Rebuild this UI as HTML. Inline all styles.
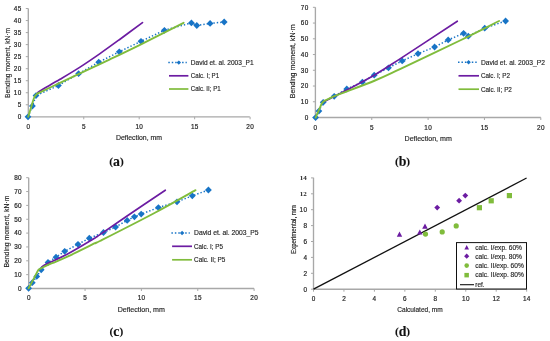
<!DOCTYPE html><html><head><meta charset="utf-8"><style>html,body{margin:0;padding:0;background:#fff;}svg{display:block;will-change:transform;}</style></head><body>
<svg width="550" height="341" viewBox="0 0 550 341">
<rect width="550" height="341" fill="#fff"/>
<line x1="28.3" y1="8.5" x2="28.3" y2="116.8" stroke="#a8a8a8" stroke-width="1.35"/>
<line x1="28.3" y1="116.8" x2="249.8" y2="116.8" stroke="#a8a8a8" stroke-width="1.35"/>
<line x1="25.8" y1="116.8" x2="28.3" y2="116.8" stroke="#a8a8a8" stroke-width="1"/>
<text x="21.650000000000002" y="119.1" font-size="6.4" text-anchor="end" font-family='"Liberation Sans", sans-serif' font-weight="normal" fill="#262626" stroke="#262626" stroke-width="0.2" letter-spacing="0.35">0</text>
<line x1="25.8" y1="104.77" x2="28.3" y2="104.77" stroke="#a8a8a8" stroke-width="1"/>
<text x="21.650000000000002" y="107.07" font-size="6.4" text-anchor="end" font-family='"Liberation Sans", sans-serif' font-weight="normal" fill="#262626" stroke="#262626" stroke-width="0.2" letter-spacing="0.35">5</text>
<line x1="25.8" y1="92.74" x2="28.3" y2="92.74" stroke="#a8a8a8" stroke-width="1"/>
<text x="21.650000000000002" y="95.03999999999999" font-size="6.4" text-anchor="end" font-family='"Liberation Sans", sans-serif' font-weight="normal" fill="#262626" stroke="#262626" stroke-width="0.2" letter-spacing="0.35">10</text>
<line x1="25.8" y1="80.71000000000001" x2="28.3" y2="80.71000000000001" stroke="#a8a8a8" stroke-width="1"/>
<text x="21.650000000000002" y="83.01" font-size="6.4" text-anchor="end" font-family='"Liberation Sans", sans-serif' font-weight="normal" fill="#262626" stroke="#262626" stroke-width="0.2" letter-spacing="0.35">15</text>
<line x1="25.8" y1="68.68" x2="28.3" y2="68.68" stroke="#a8a8a8" stroke-width="1"/>
<text x="21.650000000000002" y="70.98" font-size="6.4" text-anchor="end" font-family='"Liberation Sans", sans-serif' font-weight="normal" fill="#262626" stroke="#262626" stroke-width="0.2" letter-spacing="0.35">20</text>
<line x1="25.8" y1="56.65" x2="28.3" y2="56.65" stroke="#a8a8a8" stroke-width="1"/>
<text x="21.650000000000002" y="58.949999999999996" font-size="6.4" text-anchor="end" font-family='"Liberation Sans", sans-serif' font-weight="normal" fill="#262626" stroke="#262626" stroke-width="0.2" letter-spacing="0.35">25</text>
<line x1="25.8" y1="44.620000000000005" x2="28.3" y2="44.620000000000005" stroke="#a8a8a8" stroke-width="1"/>
<text x="21.650000000000002" y="46.92" font-size="6.4" text-anchor="end" font-family='"Liberation Sans", sans-serif' font-weight="normal" fill="#262626" stroke="#262626" stroke-width="0.2" letter-spacing="0.35">30</text>
<line x1="25.8" y1="32.59" x2="28.3" y2="32.59" stroke="#a8a8a8" stroke-width="1"/>
<text x="21.650000000000002" y="34.89" font-size="6.4" text-anchor="end" font-family='"Liberation Sans", sans-serif' font-weight="normal" fill="#262626" stroke="#262626" stroke-width="0.2" letter-spacing="0.35">35</text>
<line x1="25.8" y1="20.560000000000002" x2="28.3" y2="20.560000000000002" stroke="#a8a8a8" stroke-width="1"/>
<text x="21.650000000000002" y="22.860000000000003" font-size="6.4" text-anchor="end" font-family='"Liberation Sans", sans-serif' font-weight="normal" fill="#262626" stroke="#262626" stroke-width="0.2" letter-spacing="0.35">40</text>
<line x1="25.8" y1="8.530000000000001" x2="28.3" y2="8.530000000000001" stroke="#a8a8a8" stroke-width="1"/>
<text x="21.650000000000002" y="10.830000000000002" font-size="6.4" text-anchor="end" font-family='"Liberation Sans", sans-serif' font-weight="normal" fill="#262626" stroke="#262626" stroke-width="0.2" letter-spacing="0.35">45</text>
<line x1="28.3" y1="116.8" x2="28.3" y2="119.3" stroke="#a8a8a8" stroke-width="1"/>
<text x="28.470000000000002" y="128.8" font-size="6.4" text-anchor="middle" font-family='"Liberation Sans", sans-serif' font-weight="normal" fill="#262626" stroke="#262626" stroke-width="0.2" letter-spacing="0.35">0</text>
<line x1="83.75" y1="116.8" x2="83.75" y2="119.3" stroke="#a8a8a8" stroke-width="1"/>
<text x="83.92" y="128.8" font-size="6.4" text-anchor="middle" font-family='"Liberation Sans", sans-serif' font-weight="normal" fill="#262626" stroke="#262626" stroke-width="0.2" letter-spacing="0.35">5</text>
<line x1="139.20000000000002" y1="116.8" x2="139.20000000000002" y2="119.3" stroke="#a8a8a8" stroke-width="1"/>
<text x="139.37" y="128.8" font-size="6.4" text-anchor="middle" font-family='"Liberation Sans", sans-serif' font-weight="normal" fill="#262626" stroke="#262626" stroke-width="0.2" letter-spacing="0.35">10</text>
<line x1="194.65000000000003" y1="116.8" x2="194.65000000000003" y2="119.3" stroke="#a8a8a8" stroke-width="1"/>
<text x="194.82000000000002" y="128.8" font-size="6.4" text-anchor="middle" font-family='"Liberation Sans", sans-serif' font-weight="normal" fill="#262626" stroke="#262626" stroke-width="0.2" letter-spacing="0.35">15</text>
<line x1="250.10000000000002" y1="116.8" x2="250.10000000000002" y2="119.3" stroke="#a8a8a8" stroke-width="1"/>
<text x="250.27" y="128.8" font-size="6.4" text-anchor="middle" font-family='"Liberation Sans", sans-serif' font-weight="normal" fill="#262626" stroke="#262626" stroke-width="0.2" letter-spacing="0.35">20</text>
<text x="10.100000000000001" y="62.9" font-size="6.5" text-anchor="middle" font-family='"Liberation Sans", sans-serif' font-weight="normal" fill="#262626" stroke="#262626" stroke-width="0.15" textLength="70" lengthAdjust="spacingAndGlyphs" transform="rotate(-90 10.100000000000001 62.9)">Bending moment, kN·m</text>
<text x="139" y="140" font-size="6.5" text-anchor="middle" font-family='"Liberation Sans", sans-serif' font-weight="normal" fill="#262626" stroke="#262626" stroke-width="0.15" textLength="46" lengthAdjust="spacingAndGlyphs">Deflection, mm</text>
<text x="109.3" y="165.6" font-family='"Liberation Serif", serif' font-weight="bold" fill="#111" stroke="#111" stroke-width="0.1"><tspan font-size="11.3" dy="-1">(</tspan><tspan font-size="13.8" dx="0" dy="1">a</tspan><tspan font-size="11.3" dx="0" dy="-1">)</tspan></text>
<polyline points="28.0,116.8 32.4,106.0 36.0,95.6 58.4,85.5 78.6,73.7 98.7,62.2 119.3,51.8 141.0,41.3 164.4,30.3 191.4,22.9 196.8,25.5 210.1,23.4 224.2,22.0" fill="none" stroke="#1874c6" stroke-width="1.5" stroke-dasharray="1.4 2" stroke-linecap="butt"/>
<path d="M28.0 113.4L31.4 116.8L28.0 120.2L24.6 116.8Z" fill="#1874c6"/>
<path d="M32.4 102.6L35.8 106.0L32.4 109.4L29.0 106.0Z" fill="#1874c6"/>
<path d="M36.0 92.2L39.4 95.6L36.0 99.0L32.6 95.6Z" fill="#1874c6"/>
<path d="M58.4 82.1L61.8 85.5L58.4 88.9L55.0 85.5Z" fill="#1874c6"/>
<path d="M78.6 70.3L82.0 73.7L78.6 77.1L75.2 73.7Z" fill="#1874c6"/>
<path d="M98.7 58.8L102.1 62.2L98.7 65.6L95.3 62.2Z" fill="#1874c6"/>
<path d="M119.3 48.4L122.7 51.8L119.3 55.2L115.9 51.8Z" fill="#1874c6"/>
<path d="M141.0 37.9L144.4 41.3L141.0 44.7L137.6 41.3Z" fill="#1874c6"/>
<path d="M164.4 26.9L167.8 30.3L164.4 33.7L161.0 30.3Z" fill="#1874c6"/>
<path d="M191.4 19.5L194.8 22.9L191.4 26.3L188.0 22.9Z" fill="#1874c6"/>
<path d="M196.8 22.1L200.2 25.5L196.8 28.9L193.4 25.5Z" fill="#1874c6"/>
<path d="M210.1 20.0L213.5 23.4L210.1 26.8L206.7 23.4Z" fill="#1874c6"/>
<path d="M224.2 18.6L227.6 22.0L224.2 25.4L220.8 22.0Z" fill="#1874c6"/>
<path d="M37.20 93.20C37.67 92.83 36.20 93.32 40.00 91.00C43.80 88.68 53.33 83.28 60.00 79.30C66.67 75.32 73.33 71.38 80.00 67.10C86.67 62.82 93.33 58.25 100.00 53.60C106.67 48.95 112.92 44.37 120.00 39.20C127.08 34.03 138.75 25.37 142.50 22.60" fill="none" stroke="#6c1ca2" stroke-width="1.7" stroke-linejoin="round" stroke-linecap="round"/>
<path d="M28.20 116.80C28.75 115.00 30.53 109.13 31.50 106.00C32.47 102.87 33.17 99.95 34.00 98.00C34.83 96.05 35.50 95.25 36.50 94.30C37.50 93.35 36.08 94.22 40.00 92.30C43.92 90.38 53.33 85.97 60.00 82.80C66.67 79.63 71.67 77.22 80.00 73.30C88.33 69.38 100.00 64.05 110.00 59.30C120.00 54.55 127.73 50.88 140.00 44.80C152.27 38.72 176.33 26.47 183.60 22.80" fill="none" stroke="#80bc3c" stroke-width="1.9" stroke-linejoin="round" stroke-linecap="round"/>
<line x1="168.3" y1="62.6" x2="186.8" y2="62.6" stroke="#1874c6" stroke-width="1.5" stroke-dasharray="1.5 1.95"/>
<path d="M178.8 60.4L181.0 62.6L178.8 64.8L176.6 62.6Z" fill="#1874c6"/>
<line x1="169.0" y1="75.8" x2="188.4" y2="75.8" stroke="#6c1ca2" stroke-width="1.7"/>
<line x1="169.0" y1="89.0" x2="188.4" y2="89.0" stroke="#80bc3c" stroke-width="1.7"/>
<text x="190.8" y="64.9" font-size="6.5" text-anchor="start" font-family='"Liberation Sans", sans-serif' font-weight="normal" fill="#262626" stroke="#262626" stroke-width="0.15" textLength="62.8" lengthAdjust="spacingAndGlyphs">David et. al. 2003_P1</text>
<text x="190.8" y="78.1" font-size="6.5" text-anchor="start" font-family='"Liberation Sans", sans-serif' font-weight="normal" fill="#262626" stroke="#262626" stroke-width="0.15" textLength="28.3" lengthAdjust="spacingAndGlyphs">Calc. I; P1</text>
<text x="190.8" y="91.3" font-size="6.5" text-anchor="start" font-family='"Liberation Sans", sans-serif' font-weight="normal" fill="#262626" stroke="#262626" stroke-width="0.15" textLength="29.8" lengthAdjust="spacingAndGlyphs">Calc. II; P1</text>
<line x1="315.4" y1="7.3" x2="315.4" y2="117.5" stroke="#a8a8a8" stroke-width="1.35"/>
<line x1="315.4" y1="117.5" x2="540.8" y2="117.5" stroke="#a8a8a8" stroke-width="1.35"/>
<line x1="312.9" y1="117.5" x2="315.4" y2="117.5" stroke="#a8a8a8" stroke-width="1"/>
<text x="308.65000000000003" y="119.8" font-size="6.4" text-anchor="end" font-family='"Liberation Sans", sans-serif' font-weight="normal" fill="#262626" stroke="#262626" stroke-width="0.2" letter-spacing="0.35">0</text>
<line x1="312.9" y1="101.76" x2="315.4" y2="101.76" stroke="#a8a8a8" stroke-width="1"/>
<text x="308.65000000000003" y="104.06" font-size="6.4" text-anchor="end" font-family='"Liberation Sans", sans-serif' font-weight="normal" fill="#262626" stroke="#262626" stroke-width="0.2" letter-spacing="0.35">10</text>
<line x1="312.9" y1="86.02" x2="315.4" y2="86.02" stroke="#a8a8a8" stroke-width="1"/>
<text x="308.65000000000003" y="88.32" font-size="6.4" text-anchor="end" font-family='"Liberation Sans", sans-serif' font-weight="normal" fill="#262626" stroke="#262626" stroke-width="0.2" letter-spacing="0.35">20</text>
<line x1="312.9" y1="70.28" x2="315.4" y2="70.28" stroke="#a8a8a8" stroke-width="1"/>
<text x="308.65000000000003" y="72.58" font-size="6.4" text-anchor="end" font-family='"Liberation Sans", sans-serif' font-weight="normal" fill="#262626" stroke="#262626" stroke-width="0.2" letter-spacing="0.35">30</text>
<line x1="312.9" y1="54.54" x2="315.4" y2="54.54" stroke="#a8a8a8" stroke-width="1"/>
<text x="308.65000000000003" y="56.839999999999996" font-size="6.4" text-anchor="end" font-family='"Liberation Sans", sans-serif' font-weight="normal" fill="#262626" stroke="#262626" stroke-width="0.2" letter-spacing="0.35">40</text>
<line x1="312.9" y1="38.8" x2="315.4" y2="38.8" stroke="#a8a8a8" stroke-width="1"/>
<text x="308.65000000000003" y="41.099999999999994" font-size="6.4" text-anchor="end" font-family='"Liberation Sans", sans-serif' font-weight="normal" fill="#262626" stroke="#262626" stroke-width="0.2" letter-spacing="0.35">50</text>
<line x1="312.9" y1="23.060000000000002" x2="315.4" y2="23.060000000000002" stroke="#a8a8a8" stroke-width="1"/>
<text x="308.65000000000003" y="25.360000000000003" font-size="6.4" text-anchor="end" font-family='"Liberation Sans", sans-serif' font-weight="normal" fill="#262626" stroke="#262626" stroke-width="0.2" letter-spacing="0.35">60</text>
<line x1="312.9" y1="7.319999999999993" x2="315.4" y2="7.319999999999993" stroke="#a8a8a8" stroke-width="1"/>
<text x="308.65000000000003" y="9.619999999999994" font-size="6.4" text-anchor="end" font-family='"Liberation Sans", sans-serif' font-weight="normal" fill="#262626" stroke="#262626" stroke-width="0.2" letter-spacing="0.35">70</text>
<line x1="315.4" y1="117.5" x2="315.4" y2="120.0" stroke="#a8a8a8" stroke-width="1"/>
<text x="315.57" y="129.5" font-size="6.4" text-anchor="middle" font-family='"Liberation Sans", sans-serif' font-weight="normal" fill="#262626" stroke="#262626" stroke-width="0.2" letter-spacing="0.35">0</text>
<line x1="371.75" y1="117.5" x2="371.75" y2="120.0" stroke="#a8a8a8" stroke-width="1"/>
<text x="371.92" y="129.5" font-size="6.4" text-anchor="middle" font-family='"Liberation Sans", sans-serif' font-weight="normal" fill="#262626" stroke="#262626" stroke-width="0.2" letter-spacing="0.35">5</text>
<line x1="428.09999999999997" y1="117.5" x2="428.09999999999997" y2="120.0" stroke="#a8a8a8" stroke-width="1"/>
<text x="428.27" y="129.5" font-size="6.4" text-anchor="middle" font-family='"Liberation Sans", sans-serif' font-weight="normal" fill="#262626" stroke="#262626" stroke-width="0.2" letter-spacing="0.35">10</text>
<line x1="484.45" y1="117.5" x2="484.45" y2="120.0" stroke="#a8a8a8" stroke-width="1"/>
<text x="484.62" y="129.5" font-size="6.4" text-anchor="middle" font-family='"Liberation Sans", sans-serif' font-weight="normal" fill="#262626" stroke="#262626" stroke-width="0.2" letter-spacing="0.35">15</text>
<line x1="540.8" y1="117.5" x2="540.8" y2="120.0" stroke="#a8a8a8" stroke-width="1"/>
<text x="540.9699999999999" y="129.5" font-size="6.4" text-anchor="middle" font-family='"Liberation Sans", sans-serif' font-weight="normal" fill="#262626" stroke="#262626" stroke-width="0.2" letter-spacing="0.35">20</text>
<text x="295.4" y="61.3" font-size="6.5" text-anchor="middle" font-family='"Liberation Sans", sans-serif' font-weight="normal" fill="#262626" stroke="#262626" stroke-width="0.15" textLength="74" lengthAdjust="spacingAndGlyphs" transform="rotate(-90 295.4 61.3)">Bending moment, kN·m</text>
<text x="428.2" y="141.3" font-size="6.5" text-anchor="middle" font-family='"Liberation Sans", sans-serif' font-weight="normal" fill="#262626" stroke="#262626" stroke-width="0.15" textLength="47.3" lengthAdjust="spacingAndGlyphs">Deflection, mm</text>
<text x="394.9" y="165.6" font-family='"Liberation Serif", serif' font-weight="bold" fill="#111" stroke="#111" stroke-width="0.1"><tspan font-size="11.3" dy="-1">(</tspan><tspan font-size="13.8" dx="0" dy="1">b</tspan><tspan font-size="11.3" dx="0" dy="-1">)</tspan></text>
<polyline points="315.6,117.6 318.9,111.1 323.2,102.3 334.2,96.3 346.8,89.0 362.4,82.1 374.2,75.2 388.5,67.8 402.2,60.9 418.0,53.7 434.6,47.0 448.2,39.9 463.6,33.3 468.3,36.2 484.7,28.2 505.6,21.0" fill="none" stroke="#1874c6" stroke-width="1.5" stroke-dasharray="1.4 2" stroke-linecap="butt"/>
<path d="M315.6 114.2L319.0 117.6L315.6 121.0L312.2 117.6Z" fill="#1874c6"/>
<path d="M318.9 107.7L322.3 111.1L318.9 114.5L315.5 111.1Z" fill="#1874c6"/>
<path d="M323.2 98.9L326.6 102.3L323.2 105.7L319.8 102.3Z" fill="#1874c6"/>
<path d="M334.2 92.9L337.6 96.3L334.2 99.7L330.8 96.3Z" fill="#1874c6"/>
<path d="M346.8 85.6L350.2 89.0L346.8 92.4L343.4 89.0Z" fill="#1874c6"/>
<path d="M362.4 78.7L365.8 82.1L362.4 85.5L359.0 82.1Z" fill="#1874c6"/>
<path d="M374.2 71.8L377.6 75.2L374.2 78.6L370.8 75.2Z" fill="#1874c6"/>
<path d="M388.5 64.4L391.9 67.8L388.5 71.2L385.1 67.8Z" fill="#1874c6"/>
<path d="M402.2 57.5L405.6 60.9L402.2 64.3L398.8 60.9Z" fill="#1874c6"/>
<path d="M418.0 50.3L421.4 53.7L418.0 57.1L414.6 53.7Z" fill="#1874c6"/>
<path d="M434.6 43.6L438.0 47.0L434.6 50.4L431.2 47.0Z" fill="#1874c6"/>
<path d="M448.2 36.5L451.6 39.9L448.2 43.3L444.8 39.9Z" fill="#1874c6"/>
<path d="M463.6 29.9L467.0 33.3L463.6 36.7L460.2 33.3Z" fill="#1874c6"/>
<path d="M468.3 32.8L471.7 36.2L468.3 39.6L464.9 36.2Z" fill="#1874c6"/>
<path d="M484.7 24.8L488.1 28.2L484.7 31.6L481.3 28.2Z" fill="#1874c6"/>
<path d="M505.6 17.6L509.0 21.0L505.6 24.4L502.2 21.0Z" fill="#1874c6"/>
<path d="M324.50 101.30C327.80 99.63 335.88 95.73 344.30 91.30C352.72 86.87 365.72 80.10 375.00 74.70C384.28 69.30 386.28 67.82 400.00 58.90C413.72 49.98 447.75 27.48 457.30 21.20" fill="none" stroke="#6c1ca2" stroke-width="1.7" stroke-linejoin="round" stroke-linecap="round"/>
<path d="M315.60 117.60C316.15 116.37 317.87 112.57 318.90 110.20C319.93 107.83 320.90 104.95 321.80 103.40C322.70 101.85 323.13 101.67 324.30 100.90C325.47 100.13 326.68 99.75 328.80 98.80C330.92 97.85 329.30 98.25 337.00 95.20C344.70 92.15 364.50 84.85 375.00 80.50C385.50 76.15 385.83 75.77 400.00 69.10C414.17 62.43 443.48 48.52 460.00 40.50C476.52 32.48 492.58 24.25 499.10 21.00" fill="none" stroke="#80bc3c" stroke-width="1.9" stroke-linejoin="round" stroke-linecap="round"/>
<line x1="458.0" y1="62.3" x2="476.7" y2="62.3" stroke="#1874c6" stroke-width="1.5" stroke-dasharray="1.5 1.95"/>
<path d="M468.6 60.1L470.8 62.3L468.6 64.5L466.4 62.3Z" fill="#1874c6"/>
<line x1="458.5" y1="75.8" x2="479.0" y2="75.8" stroke="#6c1ca2" stroke-width="1.7"/>
<line x1="458.5" y1="89.2" x2="479.0" y2="89.2" stroke="#80bc3c" stroke-width="1.7"/>
<text x="480.9" y="64.6" font-size="6.5" text-anchor="start" font-family='"Liberation Sans", sans-serif' font-weight="normal" fill="#262626" stroke="#262626" stroke-width="0.15" textLength="64.0" lengthAdjust="spacingAndGlyphs">David et. al. 2003_P2</text>
<text x="480.9" y="78.1" font-size="6.5" text-anchor="start" font-family='"Liberation Sans", sans-serif' font-weight="normal" fill="#262626" stroke="#262626" stroke-width="0.15" textLength="29.0" lengthAdjust="spacingAndGlyphs">Calc. I; P2</text>
<text x="480.9" y="91.5" font-size="6.5" text-anchor="start" font-family='"Liberation Sans", sans-serif' font-weight="normal" fill="#262626" stroke="#262626" stroke-width="0.15" textLength="31.0" lengthAdjust="spacingAndGlyphs">Calc. II; P2</text>
<line x1="28.7" y1="177.7" x2="28.7" y2="288.5" stroke="#a8a8a8" stroke-width="1.35"/>
<line x1="28.7" y1="288.5" x2="254.1" y2="288.5" stroke="#a8a8a8" stroke-width="1.35"/>
<line x1="26.2" y1="288.5" x2="28.7" y2="288.5" stroke="#a8a8a8" stroke-width="1"/>
<text x="21.950000000000003" y="290.8" font-size="6.4" text-anchor="end" font-family='"Liberation Sans", sans-serif' font-weight="normal" fill="#262626" stroke="#262626" stroke-width="0.2" letter-spacing="0.35">0</text>
<line x1="26.2" y1="274.65" x2="28.7" y2="274.65" stroke="#a8a8a8" stroke-width="1"/>
<text x="21.950000000000003" y="276.95" font-size="6.4" text-anchor="end" font-family='"Liberation Sans", sans-serif' font-weight="normal" fill="#262626" stroke="#262626" stroke-width="0.2" letter-spacing="0.35">10</text>
<line x1="26.2" y1="260.8" x2="28.7" y2="260.8" stroke="#a8a8a8" stroke-width="1"/>
<text x="21.950000000000003" y="263.1" font-size="6.4" text-anchor="end" font-family='"Liberation Sans", sans-serif' font-weight="normal" fill="#262626" stroke="#262626" stroke-width="0.2" letter-spacing="0.35">20</text>
<line x1="26.2" y1="246.95" x2="28.7" y2="246.95" stroke="#a8a8a8" stroke-width="1"/>
<text x="21.950000000000003" y="249.25" font-size="6.4" text-anchor="end" font-family='"Liberation Sans", sans-serif' font-weight="normal" fill="#262626" stroke="#262626" stroke-width="0.2" letter-spacing="0.35">30</text>
<line x1="26.2" y1="233.1" x2="28.7" y2="233.1" stroke="#a8a8a8" stroke-width="1"/>
<text x="21.950000000000003" y="235.4" font-size="6.4" text-anchor="end" font-family='"Liberation Sans", sans-serif' font-weight="normal" fill="#262626" stroke="#262626" stroke-width="0.2" letter-spacing="0.35">40</text>
<line x1="26.2" y1="219.25" x2="28.7" y2="219.25" stroke="#a8a8a8" stroke-width="1"/>
<text x="21.950000000000003" y="221.55" font-size="6.4" text-anchor="end" font-family='"Liberation Sans", sans-serif' font-weight="normal" fill="#262626" stroke="#262626" stroke-width="0.2" letter-spacing="0.35">50</text>
<line x1="26.2" y1="205.4" x2="28.7" y2="205.4" stroke="#a8a8a8" stroke-width="1"/>
<text x="21.950000000000003" y="207.70000000000002" font-size="6.4" text-anchor="end" font-family='"Liberation Sans", sans-serif' font-weight="normal" fill="#262626" stroke="#262626" stroke-width="0.2" letter-spacing="0.35">60</text>
<line x1="26.2" y1="191.55" x2="28.7" y2="191.55" stroke="#a8a8a8" stroke-width="1"/>
<text x="21.950000000000003" y="193.85000000000002" font-size="6.4" text-anchor="end" font-family='"Liberation Sans", sans-serif' font-weight="normal" fill="#262626" stroke="#262626" stroke-width="0.2" letter-spacing="0.35">70</text>
<line x1="26.2" y1="177.7" x2="28.7" y2="177.7" stroke="#a8a8a8" stroke-width="1"/>
<text x="21.950000000000003" y="180.0" font-size="6.4" text-anchor="end" font-family='"Liberation Sans", sans-serif' font-weight="normal" fill="#262626" stroke="#262626" stroke-width="0.2" letter-spacing="0.35">80</text>
<line x1="28.7" y1="288.5" x2="28.7" y2="291.0" stroke="#a8a8a8" stroke-width="1"/>
<text x="28.87" y="300.4" font-size="6.4" text-anchor="middle" font-family='"Liberation Sans", sans-serif' font-weight="normal" fill="#262626" stroke="#262626" stroke-width="0.2" letter-spacing="0.35">0</text>
<line x1="85.05" y1="288.5" x2="85.05" y2="291.0" stroke="#a8a8a8" stroke-width="1"/>
<text x="85.22" y="300.4" font-size="6.4" text-anchor="middle" font-family='"Liberation Sans", sans-serif' font-weight="normal" fill="#262626" stroke="#262626" stroke-width="0.2" letter-spacing="0.35">5</text>
<line x1="141.4" y1="288.5" x2="141.4" y2="291.0" stroke="#a8a8a8" stroke-width="1"/>
<text x="141.57" y="300.4" font-size="6.4" text-anchor="middle" font-family='"Liberation Sans", sans-serif' font-weight="normal" fill="#262626" stroke="#262626" stroke-width="0.2" letter-spacing="0.35">10</text>
<line x1="197.75" y1="288.5" x2="197.75" y2="291.0" stroke="#a8a8a8" stroke-width="1"/>
<text x="197.92" y="300.4" font-size="6.4" text-anchor="middle" font-family='"Liberation Sans", sans-serif' font-weight="normal" fill="#262626" stroke="#262626" stroke-width="0.2" letter-spacing="0.35">15</text>
<line x1="254.1" y1="288.5" x2="254.1" y2="291.0" stroke="#a8a8a8" stroke-width="1"/>
<text x="254.26999999999998" y="300.4" font-size="6.4" text-anchor="middle" font-family='"Liberation Sans", sans-serif' font-weight="normal" fill="#262626" stroke="#262626" stroke-width="0.2" letter-spacing="0.35">20</text>
<text x="9.5" y="231.6" font-size="6.5" text-anchor="middle" font-family='"Liberation Sans", sans-serif' font-weight="normal" fill="#262626" stroke="#262626" stroke-width="0.15" textLength="72" lengthAdjust="spacingAndGlyphs" transform="rotate(-90 9.5 231.6)">Bending moment, kN·m</text>
<text x="141.3" y="311.8" font-size="6.5" text-anchor="middle" font-family='"Liberation Sans", sans-serif' font-weight="normal" fill="#262626" stroke="#262626" stroke-width="0.15" textLength="47.3" lengthAdjust="spacingAndGlyphs">Deflection, mm</text>
<text x="109.5" y="335.8" font-family='"Liberation Serif", serif' font-weight="bold" fill="#111" stroke="#111" stroke-width="0.1"><tspan font-size="11.3" dy="-1">(</tspan><tspan font-size="13.8" dx="0" dy="1">c</tspan><tspan font-size="11.3" dx="0" dy="-1">)</tspan></text>
<polyline points="28.6,288.3 32.3,282.7 36.8,276.4 41.2,269.8 48.0,262.5 56.0,257.2 64.7,251.3 78.0,244.3 89.3,238.2 103.5,232.5 115.6,227.0 127.2,220.4 134.4,216.8 141.2,214.1 158.4,207.6 177.0,201.8 192.3,195.8 208.4,190.0" fill="none" stroke="#1874c6" stroke-width="1.5" stroke-dasharray="1.4 2" stroke-linecap="butt"/>
<path d="M28.6 284.9L32.0 288.3L28.6 291.7L25.2 288.3Z" fill="#1874c6"/>
<path d="M32.3 279.3L35.7 282.7L32.3 286.1L28.9 282.7Z" fill="#1874c6"/>
<path d="M36.8 273.0L40.2 276.4L36.8 279.8L33.4 276.4Z" fill="#1874c6"/>
<path d="M41.2 266.4L44.6 269.8L41.2 273.2L37.8 269.8Z" fill="#1874c6"/>
<path d="M48.0 259.1L51.4 262.5L48.0 265.9L44.6 262.5Z" fill="#1874c6"/>
<path d="M56.0 253.8L59.4 257.2L56.0 260.6L52.6 257.2Z" fill="#1874c6"/>
<path d="M64.7 247.9L68.1 251.3L64.7 254.7L61.3 251.3Z" fill="#1874c6"/>
<path d="M78.0 240.9L81.4 244.3L78.0 247.7L74.6 244.3Z" fill="#1874c6"/>
<path d="M89.3 234.8L92.7 238.2L89.3 241.6L85.9 238.2Z" fill="#1874c6"/>
<path d="M103.5 229.1L106.9 232.5L103.5 235.9L100.1 232.5Z" fill="#1874c6"/>
<path d="M115.6 223.6L119.0 227.0L115.6 230.4L112.2 227.0Z" fill="#1874c6"/>
<path d="M127.2 217.0L130.6 220.4L127.2 223.8L123.8 220.4Z" fill="#1874c6"/>
<path d="M134.4 213.4L137.8 216.8L134.4 220.2L131.0 216.8Z" fill="#1874c6"/>
<path d="M141.2 210.7L144.6 214.1L141.2 217.5L137.8 214.1Z" fill="#1874c6"/>
<path d="M158.4 204.2L161.8 207.6L158.4 211.0L155.0 207.6Z" fill="#1874c6"/>
<path d="M177.0 198.4L180.4 201.8L177.0 205.2L173.6 201.8Z" fill="#1874c6"/>
<path d="M192.3 192.4L195.7 195.8L192.3 199.2L188.9 195.8Z" fill="#1874c6"/>
<path d="M208.4 186.6L211.8 190.0L208.4 193.4L205.0 190.0Z" fill="#1874c6"/>
<path d="M42.00 266.80C42.82 266.30 42.57 265.98 46.90 263.80C51.23 261.62 59.98 258.02 68.00 253.70C76.02 249.38 89.67 241.08 95.00 237.90C100.33 234.72 94.17 238.58 100.00 234.60C105.83 230.62 119.12 221.40 130.00 214.00C140.88 206.60 159.42 194.17 165.30 190.20" fill="none" stroke="#6c1ca2" stroke-width="1.7" stroke-linejoin="round" stroke-linecap="round"/>
<path d="M28.60 288.30C29.40 286.82 31.90 282.25 33.40 279.40C34.90 276.55 36.57 272.93 37.60 271.20C38.63 269.47 38.58 269.70 39.60 269.00C40.62 268.30 41.63 267.97 43.70 267.00C45.77 266.03 47.95 264.97 52.00 263.20C56.05 261.43 60.83 259.73 68.00 256.40C75.17 253.07 89.67 245.77 95.00 243.20C100.33 240.63 90.08 246.03 100.00 241.00C109.92 235.97 138.58 221.47 154.50 213.00C170.42 204.53 188.67 194.00 195.50 190.20" fill="none" stroke="#80bc3c" stroke-width="1.9" stroke-linejoin="round" stroke-linecap="round"/>
<line x1="171.4" y1="233.0" x2="189.8" y2="233.0" stroke="#1874c6" stroke-width="1.5" stroke-dasharray="1.5 1.95"/>
<path d="M182.1 230.8L184.3 233.0L182.1 235.2L179.9 233.0Z" fill="#1874c6"/>
<line x1="172.1" y1="246.3" x2="192.0" y2="246.3" stroke="#6c1ca2" stroke-width="1.7"/>
<line x1="172.1" y1="259.8" x2="192.0" y2="259.8" stroke="#80bc3c" stroke-width="1.7"/>
<text x="194.0" y="235.3" font-size="6.5" text-anchor="start" font-family='"Liberation Sans", sans-serif' font-weight="normal" fill="#262626" stroke="#262626" stroke-width="0.15" textLength="64.6" lengthAdjust="spacingAndGlyphs">David et. al. 2003_P5</text>
<text x="194.0" y="248.60000000000002" font-size="6.5" text-anchor="start" font-family='"Liberation Sans", sans-serif' font-weight="normal" fill="#262626" stroke="#262626" stroke-width="0.15" textLength="29.0" lengthAdjust="spacingAndGlyphs">Calc. I; P5</text>
<text x="194.0" y="262.1" font-size="6.5" text-anchor="start" font-family='"Liberation Sans", sans-serif' font-weight="normal" fill="#262626" stroke="#262626" stroke-width="0.15" textLength="31.4" lengthAdjust="spacingAndGlyphs">Calc. II; P5</text>
<line x1="313.5" y1="177.7" x2="313.5" y2="289.2" stroke="#a8a8a8" stroke-width="1.35"/>
<line x1="313.5" y1="289.2" x2="526.7" y2="289.2" stroke="#a8a8a8" stroke-width="1.35"/>
<line x1="311.0" y1="289.2" x2="313.5" y2="289.2" stroke="#a8a8a8" stroke-width="1"/>
<text x="307.35" y="291.5" font-size="6.4" text-anchor="end" font-family='"Liberation Sans", sans-serif' font-weight="normal" fill="#262626" stroke="#262626" stroke-width="0.2" letter-spacing="0.35">0</text>
<line x1="311.0" y1="273.3" x2="313.5" y2="273.3" stroke="#a8a8a8" stroke-width="1"/>
<text x="307.35" y="275.6" font-size="6.4" text-anchor="end" font-family='"Liberation Sans", sans-serif' font-weight="normal" fill="#262626" stroke="#262626" stroke-width="0.2" letter-spacing="0.35">2</text>
<line x1="311.0" y1="257.4" x2="313.5" y2="257.4" stroke="#a8a8a8" stroke-width="1"/>
<text x="307.35" y="259.7" font-size="6.4" text-anchor="end" font-family='"Liberation Sans", sans-serif' font-weight="normal" fill="#262626" stroke="#262626" stroke-width="0.2" letter-spacing="0.35">4</text>
<line x1="311.0" y1="241.5" x2="313.5" y2="241.5" stroke="#a8a8a8" stroke-width="1"/>
<text x="307.35" y="243.8" font-size="6.4" text-anchor="end" font-family='"Liberation Sans", sans-serif' font-weight="normal" fill="#262626" stroke="#262626" stroke-width="0.2" letter-spacing="0.35">6</text>
<line x1="311.0" y1="225.6" x2="313.5" y2="225.6" stroke="#a8a8a8" stroke-width="1"/>
<text x="307.35" y="227.9" font-size="6.4" text-anchor="end" font-family='"Liberation Sans", sans-serif' font-weight="normal" fill="#262626" stroke="#262626" stroke-width="0.2" letter-spacing="0.35">8</text>
<line x1="311.0" y1="209.7" x2="313.5" y2="209.7" stroke="#a8a8a8" stroke-width="1"/>
<text x="307.35" y="212.0" font-size="6.4" text-anchor="end" font-family='"Liberation Sans", sans-serif' font-weight="normal" fill="#262626" stroke="#262626" stroke-width="0.2" letter-spacing="0.35">10</text>
<line x1="311.0" y1="193.79999999999998" x2="313.5" y2="193.79999999999998" stroke="#a8a8a8" stroke-width="1"/>
<text x="306.7" y="196.2" font-size="7" text-anchor="end" font-family='"Liberation Serif", serif' font-weight="bold" fill="#262626" stroke="#262626" stroke-width="0">12</text>
<line x1="311.0" y1="177.89999999999998" x2="313.5" y2="177.89999999999998" stroke="#a8a8a8" stroke-width="1"/>
<text x="306.7" y="180.29999999999998" font-size="7" text-anchor="end" font-family='"Liberation Serif", serif' font-weight="bold" fill="#262626" stroke="#262626" stroke-width="0">14</text>
<line x1="313.5" y1="289.2" x2="313.5" y2="291.7" stroke="#a8a8a8" stroke-width="1"/>
<text x="313.67" y="300.8" font-size="6.4" text-anchor="middle" font-family='"Liberation Sans", sans-serif' font-weight="normal" fill="#262626" stroke="#262626" stroke-width="0.2" letter-spacing="0.35">0</text>
<line x1="343.95" y1="289.2" x2="343.95" y2="291.7" stroke="#a8a8a8" stroke-width="1"/>
<text x="344.12" y="300.8" font-size="6.4" text-anchor="middle" font-family='"Liberation Sans", sans-serif' font-weight="normal" fill="#262626" stroke="#262626" stroke-width="0.2" letter-spacing="0.35">2</text>
<line x1="374.4" y1="289.2" x2="374.4" y2="291.7" stroke="#a8a8a8" stroke-width="1"/>
<text x="374.57" y="300.8" font-size="6.4" text-anchor="middle" font-family='"Liberation Sans", sans-serif' font-weight="normal" fill="#262626" stroke="#262626" stroke-width="0.2" letter-spacing="0.35">4</text>
<line x1="404.85" y1="289.2" x2="404.85" y2="291.7" stroke="#a8a8a8" stroke-width="1"/>
<text x="405.02000000000004" y="300.8" font-size="6.4" text-anchor="middle" font-family='"Liberation Sans", sans-serif' font-weight="normal" fill="#262626" stroke="#262626" stroke-width="0.2" letter-spacing="0.35">6</text>
<line x1="435.3" y1="289.2" x2="435.3" y2="291.7" stroke="#a8a8a8" stroke-width="1"/>
<text x="435.47" y="300.8" font-size="6.4" text-anchor="middle" font-family='"Liberation Sans", sans-serif' font-weight="normal" fill="#262626" stroke="#262626" stroke-width="0.2" letter-spacing="0.35">8</text>
<line x1="465.75" y1="289.2" x2="465.75" y2="291.7" stroke="#a8a8a8" stroke-width="1"/>
<text x="465.92" y="300.8" font-size="6.4" text-anchor="middle" font-family='"Liberation Sans", sans-serif' font-weight="normal" fill="#262626" stroke="#262626" stroke-width="0.2" letter-spacing="0.35">10</text>
<line x1="496.2" y1="289.2" x2="496.2" y2="291.7" stroke="#a8a8a8" stroke-width="1"/>
<text x="496.37" y="300.8" font-size="6.4" text-anchor="middle" font-family='"Liberation Sans", sans-serif' font-weight="normal" fill="#262626" stroke="#262626" stroke-width="0.2" letter-spacing="0.35">12</text>
<line x1="526.65" y1="289.2" x2="526.65" y2="291.7" stroke="#a8a8a8" stroke-width="1"/>
<text x="526.8199999999999" y="300.8" font-size="6.4" text-anchor="middle" font-family='"Liberation Sans", sans-serif' font-weight="normal" fill="#262626" stroke="#262626" stroke-width="0.2" letter-spacing="0.35">14</text>
<text x="295.9" y="229.5" font-size="6.3" text-anchor="middle" font-family='"Liberation Sans", sans-serif' font-weight="normal" fill="#262626" stroke="#262626" stroke-width="0.15" textLength="48.8" lengthAdjust="spacingAndGlyphs" transform="rotate(-90 295.9 229.5)">Experimental, mm</text>
<text x="420" y="312.2" font-size="6.5" text-anchor="middle" font-family='"Liberation Sans", sans-serif' font-weight="normal" fill="#262626" stroke="#262626" stroke-width="0.15" textLength="45.4" lengthAdjust="spacingAndGlyphs">Calculated, mm</text>
<text x="394.9" y="336.0" font-family='"Liberation Serif", serif' font-weight="bold" fill="#111" stroke="#111" stroke-width="0.1"><tspan font-size="11.3" dy="-1">(</tspan><tspan font-size="13.8" dx="0" dy="1">d</tspan><tspan font-size="11.3" dx="0" dy="-1">)</tspan></text>
<line x1="313.5" y1="289.2" x2="526.6" y2="178" stroke="#111" stroke-width="1.3"/>
<path d="M399.5 231.6L402.2 236.8L396.8 236.8Z" fill="#6c1ca2"/>
<path d="M419.8 229.4L422.6 234.6L417.1 234.6Z" fill="#6c1ca2"/>
<path d="M425.0 223.6L427.8 228.8L422.2 228.8Z" fill="#6c1ca2"/>
<path d="M437.2 204.7L440.1 207.6L437.2 210.5L434.3 207.6Z" fill="#6c1ca2"/>
<path d="M459.1 197.8L462.0 200.7L459.1 203.6L456.2 200.7Z" fill="#6c1ca2"/>
<path d="M465.3 192.7L468.2 195.6L465.3 198.5L462.4 195.6Z" fill="#6c1ca2"/>
<circle cx="425.5" cy="234.1" r="2.6" fill="#80bc3c"/>
<circle cx="442.2" cy="231.9" r="2.6" fill="#80bc3c"/>
<circle cx="456.2" cy="225.9" r="2.6" fill="#80bc3c"/>
<rect x="476.8" y="205.1" width="5.2" height="5.2" fill="#80bc3c"/>
<rect x="488.6" y="198.2" width="5.2" height="5.2" fill="#80bc3c"/>
<rect x="506.8" y="193.0" width="5.2" height="5.2" fill="#80bc3c"/>
<rect x="456.5" y="242.6" width="70" height="46.4" fill="#fff" stroke="#111" stroke-width="1"/>
<path d="M466.7 245.0L469.0 249.4L464.4 249.4Z" fill="#6c1ca2"/>
<path d="M466.7 253.6L469.3 256.2L466.7 258.8L464.1 256.2Z" fill="#6c1ca2"/>
<circle cx="466.7" cy="265.6" r="2.3" fill="#80bc3c"/>
<rect x="464.4" y="272.9" width="4.5" height="4.5" fill="#80bc3c"/>
<line x1="460" y1="284.7" x2="474" y2="284.7" stroke="#111" stroke-width="1.1"/>
<text x="475.3" y="249.5" font-size="6.4" text-anchor="start" font-family='"Liberation Sans", sans-serif' font-weight="normal" fill="#262626" stroke="#262626" stroke-width="0.15" textLength="46.7" lengthAdjust="spacingAndGlyphs">calc. I/exp. 60%</text>
<text x="475.3" y="258.5" font-size="6.4" text-anchor="start" font-family='"Liberation Sans", sans-serif' font-weight="normal" fill="#262626" stroke="#262626" stroke-width="0.15" textLength="46.7" lengthAdjust="spacingAndGlyphs">calc. I/exp. 80%</text>
<text x="475.3" y="267.90000000000003" font-size="6.4" text-anchor="start" font-family='"Liberation Sans", sans-serif' font-weight="normal" fill="#262626" stroke="#262626" stroke-width="0.15" textLength="48.5" lengthAdjust="spacingAndGlyphs">calc. II/exp. 60%</text>
<text x="475.3" y="277.40000000000003" font-size="6.4" text-anchor="start" font-family='"Liberation Sans", sans-serif' font-weight="normal" fill="#262626" stroke="#262626" stroke-width="0.15" textLength="48.5" lengthAdjust="spacingAndGlyphs">calc. II/exp. 80%</text>
<text x="475.3" y="287.0" font-size="6.4" text-anchor="start" font-family='"Liberation Sans", sans-serif' font-weight="normal" fill="#262626" stroke="#262626" stroke-width="0.15">ref.</text>
</svg></body></html>
